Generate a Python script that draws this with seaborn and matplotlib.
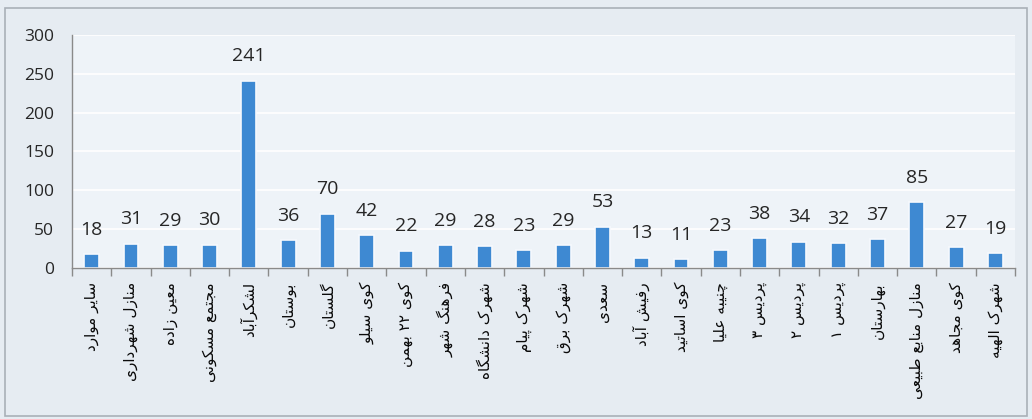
import numpy as np
import pandas as pd
import matplotlib
matplotlib.use("Agg")
import matplotlib.pyplot as plt
from matplotlib.patches import Rectangle
import seaborn as sns

# ---------------- data ----------------
categories = [
    "سایر موارد", "منازل شهرداری", "معین زاده", "مجتمع مسکونی", "لشکرآباد",
    "بوستان", "گلستان", "کوی سیلو", "کوی ۲۲ بهمن", "فرهنگ شهر",
    "شهرک دانشگاه", "شهرک پیام", "شهرک برق", "سعدی", "رفیش آباد",
    "کوی اساتید", "چنیبه علیا", "پردیس ۳", "پردیس ۲", "پردیس ۱",
    "بهارستان", "منازل منابع طبیعی", "کوی مجاهد", "شهرک الهیه",
]
values = [18, 31, 29, 30, 241, 36, 70, 42, 22, 29, 28, 23, 29, 53, 13,
          11, 23, 38, 34, 32, 37, 85, 27, 19]
y_ticks = [0, 50, 100, 150, 200, 250, 300]

# ---------------- simple Persian shaping for display ----------------
# forms: isolated, final, initial, medial (None where not applicable)
FORMS = {
    "ا": (0xFE8D, 0xFE8E, None, None), "آ": (0xFE81, 0xFE82, None, None),
    "ب": (0xFE8F, 0xFE90, 0xFE91, 0xFE92), "پ": (0xFB56, 0xFB57, 0xFB58, 0xFB59),
    "ت": (0xFE95, 0xFE96, 0xFE97, 0xFE98), "ج": (0xFE9D, 0xFE9E, 0xFE9F, 0xFEA0),
    "چ": (0xFB7A, 0xFB7B, 0xFB7C, 0xFB7D), "د": (0xFEA9, 0xFEAA, None, None),
    "ر": (0xFEAD, 0xFEAE, None, None), "ز": (0xFEAF, 0xFEB0, None, None),
    "س": (0xFEB1, 0xFEB2, 0xFEB3, 0xFEB4), "ش": (0xFEB5, 0xFEB6, 0xFEB7, 0xFEB8),
    "ط": (0xFEC1, 0xFEC2, 0xFEC3, 0xFEC4), "ع": (0xFEC9, 0xFECA, 0xFECB, 0xFECC),
    "ف": (0xFED1, 0xFED2, 0xFED3, 0xFED4), "ق": (0xFED5, 0xFED6, 0xFED7, 0xFED8),
    "ک": (0xFB8E, 0xFB8F, 0xFB90, 0xFB91), "گ": (0xFB92, 0xFB93, 0xFB94, 0xFB95),
    "ل": (0xFEDD, 0xFEDE, 0xFEDF, 0xFEE0), "م": (0xFEE1, 0xFEE2, 0xFEE3, 0xFEE4),
    "ن": (0xFEE5, 0xFEE6, 0xFEE7, 0xFEE8), "ه": (0xFEE9, 0xFEEA, 0xFEEB, 0xFEEC),
    "و": (0xFEED, 0xFEEE, None, None), "ی": (0xFEEF, 0xFEF0, 0xFEF3, 0xFEF4),
}


def shape(text):
    chars = list(text)
    out = []
    for i, c in enumerate(chars):
        if c not in FORMS:
            out.append(c)
            continue
        f = FORMS[c]
        prev = chars[i - 1] if i > 0 else None
        nxt = chars[i + 1] if i + 1 < len(chars) else None
        pj = prev in FORMS and FORMS[prev][2] is not None
        nj = f[2] is not None and nxt in FORMS
        if pj and nj:
            out.append(chr(f[3]))
        elif pj:
            out.append(chr(f[1]))
        elif nj:
            out.append(chr(f[2]))
        else:
            out.append(chr(f[0]))
    return "".join(reversed(out))


labels_disp = [shape(c) for c in categories]
df = pd.DataFrame({"label": labels_disp, "value": values})

# ---------------- figure ----------------
sns.set_theme(style="white")
plt.rcParams["font.family"] = ["DejaVu Sans"]

fig = plt.figure(figsize=(10.32, 4.19), dpi=100)
fig.patch.set_facecolor("#e6ecf2")
fig.patches.append(Rectangle((0.005, 0.008), 0.99, 0.972, transform=fig.transFigure,
                             fill=False, edgecolor="#a9b0b8", linewidth=1.2))
ax = fig.add_axes([0.0698, 0.3604, 0.9137, 0.5561])
ax.set_facecolor("#eef3f8")

sns.barplot(data=df, x="label", y="value", color="#3e89d2", width=0.38,
            edgecolor="#f6f9fd", linewidth=1.2, saturation=1, ax=ax)

for i, v in enumerate(values):
    ax.annotate(str(v), (i, v), xytext=(0, 14), textcoords="offset points",
                ha="center", va="baseline", fontsize=14, color="#262626",
                family=["Open Sans", "DejaVu Sans"])

ax.set_ylim(0, 300)
ax.set_xlim(-0.5, len(values) - 0.5)
ax.set_yticks(y_ticks)
ax.set_yticklabels([str(t) for t in y_ticks], fontsize=12.5, color="#262626",
                   family=["Open Sans", "DejaVu Sans"])
ax.yaxis.grid(True, color="#ffffff", linewidth=1.2)
ax.set_axisbelow(True)

ax.set_xticks(range(len(values)))
ax.set_xticklabels(labels_disp, rotation=90, fontsize=11, color="#0a0a0a")
ax.set_xticks(np.arange(-0.5, len(values), 1.0), minor=True)
ax.tick_params(axis="x", which="major", length=0, pad=10)
ax.tick_params(axis="x", which="minor", length=6, color="#8a8a8a", width=1, direction="out")
ax.tick_params(axis="y", length=5, color="#8a8a8a", width=1, direction="out", pad=8)
ax.xaxis.set_tick_params(which="minor", bottom=True)

for s in ["top", "right"]:
    ax.spines[s].set_visible(False)
for s in ["left", "bottom"]:
    ax.spines[s].set_color("#8a8a8a")
    ax.spines[s].set_linewidth(1)

ax.set_xlabel("")
ax.set_ylabel("")

fig.savefig("out.png", dpi=100, facecolor=fig.get_facecolor())
